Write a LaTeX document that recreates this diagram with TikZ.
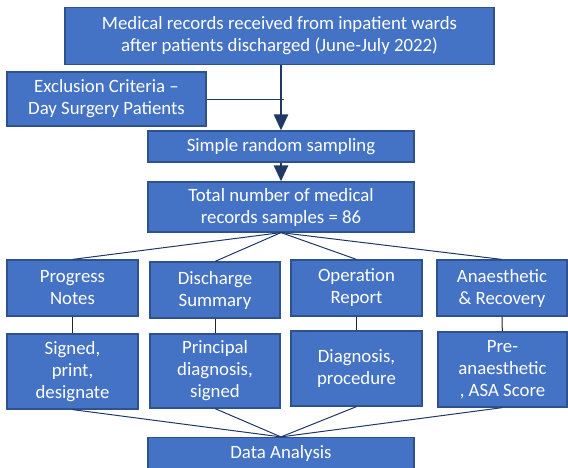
\documentclass[tikz,border=0pt]{standalone}
\usepackage{fontspec}
\setmainfont{Carlito}
\usetikzlibrary{arrows.meta}
\definecolor{boxblue}{HTML}{4472C4}
\definecolor{boxedge}{HTML}{2F528F}
\definecolor{navy}{HTML}{203864}
\begin{document}
\begin{tikzpicture}[x=1pt,y=-1pt,
box/.style={shape=rectangle,draw=boxedge,line width=1.2pt,fill=boxblue,text=white,align=center,inner sep=0pt,font=\fontsize{18.8}{22}\selectfont},
link/.style={draw=navy,line width=1pt},
flow/.style={draw=navy,line width=2.6pt,-{Triangle[length=16pt,width=14pt]}}]
\useasboundingbox (0,0) rectangle (568,467);
\node[box,minimum width=429,minimum height=57](0) at (279.5,36) {Medical records received from inpatient wards\\after patients discharged (June-July 2022)};
\node[box,minimum width=199,minimum height=54](1) at (106.5,99) {Exclusion Criteria --\\Day Surgery Patients};
\coordinate(j) at (284,99);
\node[box,minimum width=266,minimum height=31](2) at (281,146.5) {Simple random sampling};
\node[box,minimum width=266,minimum height=50](3) at (281,207) {Total number of medical\\records samples = 86};
\node[box,minimum width=131,minimum height=56](4) at (72.5,288) {Progress\\Notes};
\node[box,minimum width=130,minimum height=56](5) at (215,290) {Discharge\\Summary};
\node[box,minimum width=131,minimum height=56](6) at (356.5,288) {Operation\\Report};
\node[box,minimum width=130,minimum height=56](7) at (502,288) {Anaesthetic\\\& Recovery};
\node[box,minimum width=131,minimum height=75](8) at (72.5,371.5) {Signed,\\print,\\designate};
\node[box,minimum width=130,minimum height=74](9) at (215,371) {Principal\\diagnosis,\\signed};
\node[box,minimum width=131,minimum height=75](10) at (356.5,368.5) {Diagnosis,\\procedure};
\node[box,minimum width=129,minimum height=75](11) at (502.5,369.5) {Pre-\\anaesthetic\\, ASA Score};
\node[box,minimum width=266,minimum height=31](12) at (281,453) {Data Analysis};
\path[link]
(1) edge (j)
(3.south) edge (4.north)
(3.south) edge (5.north)
(3.south) edge (6.north)
(3.south) edge (7.north)
(8.south) edge (12.north)
(9.south) edge (12.north)
(10.south) edge (12.north)
(11.south) edge (12.north);
\path[link,draw=black!85]
(4) edge (8)
(5) edge (9)
(6) edge (10)
(7) edge (11);
\draw[flow] (2.north |- 0.south) -- (2.north);
\draw[flow] (2) -- (3);
\end{tikzpicture}
\end{document}
